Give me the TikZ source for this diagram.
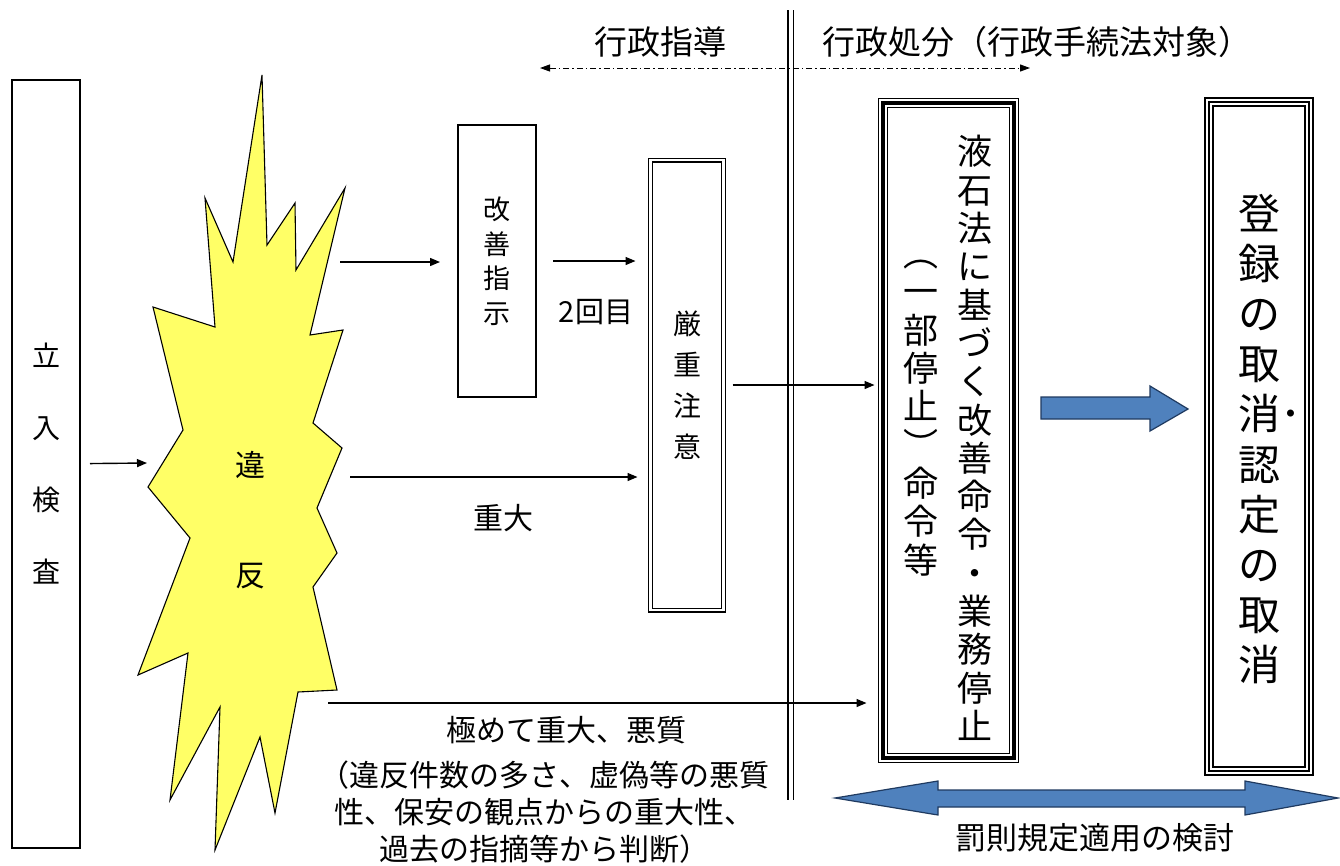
\documentclass[tikz,border=0pt]{standalone}
\usepackage{fontspec}
\setmainfont{Noto Sans CJK JP}
\usetikzlibrary{arrows.meta,positioning,calc}
\definecolor{burst}{HTML}{FFFF66}
\definecolor{bigarrow}{HTML}{4F81BD}
\definecolor{bigarrowline}{HTML}{1F3A60}
\newcommand\jpsize[2]{\fontsize{#1}{#2}\selectfont}

\begin{document}
\begin{tikzpicture}[x=1pt,y=-1pt,line width=1.4pt,
                    every edge/.style={draw,-{Triangle[length=10pt,width=8pt]}},
                    box node/.style={rectangle,draw,outer sep=0pt,inner sep=0pt,align=center},
                    text node/.style={inner sep=0pt,align=center}]

  \fill[white] (0,0) rectangle (1340,865);
  \useasboundingbox (0,0) rectangle (1340,865);

  % burst
  \filldraw[fill=burst,draw=black,line width=1.1pt]
    (262,75) -- (267,245) -- (295,203) -- (296,270) -- (345,188) -- (310,335)
    -- (343,330) -- (313,423) -- (342,448) -- (317,508) -- (337,553) -- (313,587)
    -- (337,690) -- (298,692) -- (275,813) -- (260,737) -- (215,850) -- (220,707)
    -- (170,800) -- (188,653) -- (138,675) -- (190,538) -- (148,487) -- (183,430)
    -- (153,307) -- (215,327) -- (205,198) -- (233,262) -- cycle;

  \node[box node,line width=1.2pt,minimum width=68pt,minimum height=768pt,font=\jpsize{28}{72}]
    at (46,464) (1) {立\\入\\検\\査};
  \node[text node,font=\jpsize{30}{110}] at (250,520) (2) {違\\反};
  \node[box node,line width=1.2pt,minimum width=78pt,minimum height=272pt,font=\jpsize{27}{34.5}]
    at (497,261) (3) {改\\善\\指\\示};
  \node[box node,double,double distance=2.6pt,line width=1.2pt,minimum width=73pt,minimum height=450pt,
    font=\jpsize{28}{41}] at (687,385) (4) {厳\\重\\注\\意};
  \node[box node,line width=4pt,minimum width=131pt,minimum height=655pt] at (948,430) (5) {};
  \draw[line width=1pt] ([shift={(-4.5,-4.5)}]5.north west) rectangle ([shift={(4.5,4.5)}]5.south east);
  \draw[line width=1pt] ([shift={(4.5,4.5)}]5.north west) rectangle ([shift={(-4.5,-4.5)}]5.south east);
  \node[text node,font=\jpsize{35}{38.3}] at (975,438) (5a)
    {液\\石\\法\\に\\基\\づ\\く\\改\\善\\命\\令\\・\\業\\務\\停\\止};
  \node[text node,font=\jpsize{35}{38.3}] at (921,418) (5b)
    {︵\\一\\部\\停\\止\\︶\\命\\令\\等};
  \node[box node,line width=1.3pt,minimum width=100pt,minimum height=669pt] at (1259,436.5) (6) {};
  \draw[line width=1.3pt] ([shift={(-4,-4)}]6.north west) rectangle ([shift={(4,4)}]6.south east);
  \draw[line width=1.3pt] ([shift={(4,4)}]6.north west) rectangle ([shift={(-4,-4)}]6.south east);
  \node[text node,font=\jpsize{42}{50.2}] at (1259,439) (6a)
    {登\\録\\の\\取\\消\rlap{･}\\認\\定\\の\\取\\消};

  \node[text node,font=\jpsize{33}{40}] at (660,42) (7) {行政指導};
  \node[text node,font=\jpsize{33}{40}] at (1037,42) (8) {行政処分（行政手続法対象）};
  \node[text node,font=\jpsize{29}{36}] at (596,312) (9) {2回目};
  \node[text node,font=\jpsize{30}{36}] at (503,518) (10) {重大};
  \node[text node,font=\jpsize{30}{36}] at (566,730) (11) {極めて重大、悪質};
  \node[text node,font=\jpsize{30}{37}] at (544,812) (12)
    {（違反件数の多さ、虚偽等の悪質\\性、保安の観点からの重大性、\\過去の指摘等から判断）};
  \node[text node,font=\jpsize{31}{36}] at (1095,838) (13) {罰則規定適用の検討};

  \coordinate (v) at (147,463);
  \coordinate (s1) at (340,262);
  \coordinate (s2) at (350,477);
  \coordinate (s3) at (328,703);
  \coordinate (gl) at (540,68);
  \coordinate (gr) at (1030,68);
  \coordinate (top) at (790.5,10);
  \coordinate (bot) at (790.5,800);

  \draw[double,double distance=4pt,line width=1.5pt] (top) -- (bot);
  \draw[line width=1pt,dash pattern=on 6pt off 3pt on 1.5pt off 3pt,
        {Triangle[length=10pt,width=7pt]}-{Triangle[length=10pt,width=7pt]}] (gl) -- (gr);

  \path
    (1) edge[shorten <=10pt] (v)
    (s1) edge[shorten >=18pt] (s1 -| 3.west)
    (3) edge[shorten <=17pt,shorten >=15pt] (3 -| 4.west)
    (s2) edge[shorten >=13pt] (s2 -| 4.west)
    (4) edge[shorten <=9pt,shorten >=8pt] (4 -| 5.west)
    (s3) edge[shorten >=16pt] (s3 -| 5.west);

  % blue arrows
  \filldraw[fill=bigarrow,draw=bigarrowline,line width=1.2pt]
    (1041,397) -- (1150,397) -- (1150,386) -- (1188,409) -- (1150,431) -- (1150,419) -- (1041,419) -- cycle;
  \filldraw[fill=bigarrow,draw=bigarrowline,line width=1.2pt]
    (835,798) -- (938,781) -- (938,790) -- (1245,790) -- (1245,781) -- (1338,798)
    -- (1245,815) -- (1245,807) -- (938,807) -- (938,815) -- cycle;

\end{tikzpicture}
\end{document}
